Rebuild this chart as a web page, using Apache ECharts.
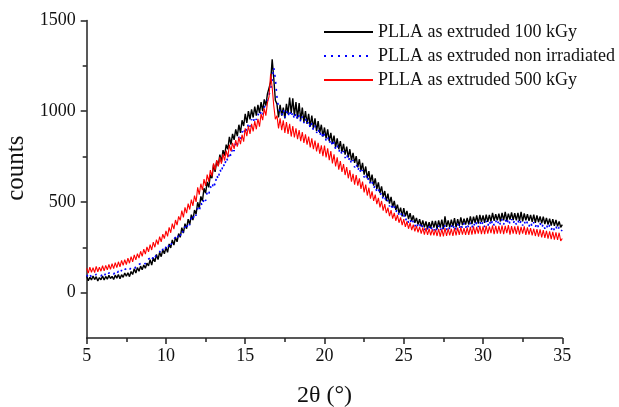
<!DOCTYPE html>
<html>
<head>
<meta charset="utf-8">
<script src="https://cdn.jsdelivr.net/npm/echarts@6/dist/echarts.min.js"></script>
<style>
html,body{margin:0;padding:0;background:#fff;}
#chart{width:619px;height:407px;}
</style>
</head>
<body>
<div id="chart"></div>
<script>
// 2θ sampling grid: 5.0° to 35.0° in 0.1° steps
const angleStart = 5;
const angleStep = 0.1;

const seriesNames = ['PLLA as extruded 100 kGy', 'PLLA as extruded non irradiated', 'PLLA as extruded 500 kGy'];

const yTickLabels = [0, 500, 1000, 1500];
const yMinorTicks = [250, 750, 1250];

const counts100kGy = [
90,66,85,70,92,72,88,64,83,71,
92,70,89,74,95,78,90,72,96,80,
100,77,99,84,108,90,110,88,116,100,
132,108,138,118,146,126,152,134,162,148,
182,152,192,170,210,182,222,198,236,214,
250,222,268,246,290,262,305,280,325,305,
358,328,380,352,405,375,430,400,455,432,
498,465,530,505,575,548,610,580,650,630,
705,665,725,700,760,720,785,755,815,790,
858,815,875,842,900,862,925,880,950,918,
985,935,1000,955,1010,965,1025,975,1035,990,
1050,1000,1065,1030,1095,1090,1160,1285,1180,1060,
1040,965,1035,975,1020,960,1040,985,1075,990,
1070,975,1050,960,1045,950,1020,940,1000,930,
985,915,975,905,960,890,945,880,925,860,
910,850,900,835,880,820,865,800,850,790,
835,775,820,760,805,745,790,728,770,715,
752,690,735,672,715,650,695,630,670,608,
650,590,630,570,608,548,585,528,560,505,
545,490,528,470,505,455,485,438,468,420,
465,420,450,405,438,395,425,385,412,375,
405,365,398,360,392,352,388,355,395,358,
395,352,398,358,402,350,420,362,398,360,
402,365,410,360,405,368,415,372,408,375,
412,375,420,378,418,385,425,380,428,388,
425,385,430,390,428,392,440,395,432,398,
435,392,440,398,445,395,435,402,442,400,
438,398,440,395,445,392,436,398,432,395,
428,390,430,385,425,388,420,382,418,378,
412,375,408,370,405,368,400,365,392,360,
375
];

const countsNonIrradiated = [
98,84,100,86,97,88,102,90,99,92,
104,90,106,94,108,98,112,100,116,104,
118,106,124,112,128,118,136,124,140,130,
146,134,152,142,160,150,170,158,180,170,
190,176,202,190,214,204,228,214,240,228,
252,240,268,256,285,275,305,292,325,312,
345,330,365,350,388,372,412,398,438,425,
465,448,495,478,522,505,555,540,585,568,
612,590,648,625,680,660,712,692,745,725,
775,752,800,780,830,812,858,838,888,870,
912,890,935,915,955,935,970,952,985,968,
998,978,1020,1010,1060,1070,1120,1170,1240,1180,
1080,1020,1015,975,1010,965,1000,970,1005,968,
995,955,990,950,980,940,970,935,962,925,
945,905,935,895,920,880,905,865,890,850,
875,838,860,822,845,805,830,790,812,775,
795,758,780,742,765,725,748,708,730,690,
712,672,695,655,675,635,655,615,635,595,
612,575,592,555,572,535,552,515,530,495,
510,475,492,458,475,442,460,428,445,415,
428,395,415,385,405,375,395,365,388,360,
378,350,372,345,368,342,365,340,365,342,
365,340,368,340,370,342,372,345,370,348,
372,345,375,348,378,350,380,352,382,355,
382,355,385,358,388,360,390,362,392,365,
392,362,395,365,398,368,400,370,398,372,
402,372,405,375,406,376,408,378,405,378,
402,375,400,372,398,370,396,368,392,365,
390,362,388,360,385,358,382,355,380,352,
375,348,372,345,368,342,365,340,362,338,
345
];

const counts500kGy = [
135,108,140,112,138,110,145,115,140,118,
148,120,150,125,155,128,160,132,165,138,
170,142,178,150,182,155,190,162,198,170,
208,180,215,190,228,200,240,212,252,225,
265,235,278,250,292,265,308,280,322,298,
340,310,360,330,380,350,400,372,420,398,
452,415,470,438,490,458,512,478,535,500,
580,540,600,565,625,588,650,612,675,640,
712,675,730,695,748,710,765,728,782,745,
815,780,825,792,840,805,855,818,870,832,
905,862,918,875,930,888,945,900,958,915,
985,950,1015,975,1045,1080,1205,1130,1030,955,
975,905,960,895,950,880,940,875,930,860,
918,855,905,845,895,835,885,825,872,815,
860,800,850,790,838,778,825,765,812,752,
810,745,795,730,780,712,762,695,745,678,
725,665,708,648,692,630,675,612,655,595,
648,590,630,572,612,552,595,535,578,518,
558,505,540,488,522,470,505,452,488,438,
468,422,455,408,440,395,428,385,415,372,
405,362,392,352,385,345,375,338,368,332,
362,325,358,320,355,318,352,315,350,315,
348,312,352,308,350,310,355,312,352,315,
352,312,355,315,358,318,360,320,356,318,
358,318,362,320,365,322,362,325,368,322,
365,322,368,325,365,328,370,322,368,325,
368,325,370,322,368,328,372,320,366,325,
365,322,368,320,362,325,365,318,360,320,
355,315,352,312,350,308,348,305,345,302,
340,298,338,295,335,292,332,290,330,285,
298
];

function toPairs(values) {
  return values.map((v, i) => [Math.round((angleStart + i * angleStep) * 10) / 10, v]);
}

const FONT = '"Liberation Serif", "DejaVu Serif", serif';
const AXIS_COLOR = '#222';
const plain = v => String(v);

const chart = echarts.init(document.getElementById('chart'), null, {renderer: 'canvas'});

const option = {
  animation: false,
  backgroundColor: '#fff',
  textStyle: {fontFamily: FONT, color: '#111'},
  grid: {left: 86.7, right: 56.7, top: 20.4, bottom: 69, containLabel: false, outerBoundsMode: 'none'},
  legend: {
    orient: 'vertical',
    left: 323,
    top: 23,
    padding: 0,
    itemWidth: 49,
    itemHeight: 14,
    itemGap: 6,
    data: seriesNames,
    itemStyle: {opacity: 0},
    textStyle: {fontFamily: FONT, fontSize: 18, color: '#111'}
  },
  xAxis: {
    type: 'value',
    min: 5,
    max: 35,
    interval: 5,
    name: '2θ (°)',
    nameLocation: 'middle',
    nameGap: 46,
    nameTextStyle: {fontFamily: FONT, fontSize: 24, color: '#111'},
    axisLine: {show: true, onZero: false, lineStyle: {color: AXIS_COLOR, width: 1.5}},
    axisTick: {show: true, inside: false, length: 6, lineStyle: {color: AXIS_COLOR, width: 1.5}},
    minorTick: {show: true, splitNumber: 2, length: 4, lineStyle: {color: AXIS_COLOR, width: 1.5}},
    axisLabel: {fontFamily: FONT, fontSize: 18, color: '#111', margin: 9, formatter: plain},
    splitLine: {show: false},
    minorSplitLine: {show: false}
  },
  yAxis: [{
    type: 'value',
    min: -250,
    max: 1500,
    interval: 250,
    name: 'counts',
    nameLocation: 'middle',
    nameGap: 50,
    nameTextStyle: {fontFamily: FONT, fontSize: 25, color: '#111', padding: [0, 0, 0, 22]},
    axisLine: {show: true, onZero: false, lineStyle: {color: AXIS_COLOR, width: 1.5}},
    axisTick: {show: true, inside: false, length: 6, customValues: yTickLabels, lineStyle: {color: AXIS_COLOR, width: 1.5}},
    axisLabel: {fontFamily: FONT, fontSize: 18, color: '#111', margin: 11, customValues: yTickLabels, formatter: plain},
    splitLine: {show: false}
  }, {
    type: 'value',
    position: 'left',
    min: -250,
    max: 1500,
    interval: 250,
    axisLine: {show: false},
    axisTick: {show: true, inside: false, length: 4, customValues: yMinorTicks, lineStyle: {color: AXIS_COLOR, width: 1.5}},
    axisLabel: {show: false},
    splitLine: {show: false}
  }],
  series: [
    {
      name: seriesNames[0], type: 'line', data: toPairs(counts100kGy),
      symbol: 'none', showSymbol: false, z: 2,
      lineStyle: {color: '#000', width: 1.4},
      itemStyle: {color: '#000'}
    },
    {
      name: seriesNames[1], type: 'line', data: toPairs(countsNonIrradiated),
      symbol: 'none', showSymbol: false, z: 3,
      lineStyle: {color: '#0000ff', width: 1.6, type: [2, 5]},
      itemStyle: {color: '#0000ff'}
    },
    {
      name: seriesNames[2], type: 'line', data: toPairs(counts500kGy),
      symbol: 'none', showSymbol: false, z: 4,
      lineStyle: {color: '#ff0000', width: 1.1},
      itemStyle: {color: '#ff0000'}
    }
  ]
};

chart.setOption(option);
</script>
</body>
</html>
